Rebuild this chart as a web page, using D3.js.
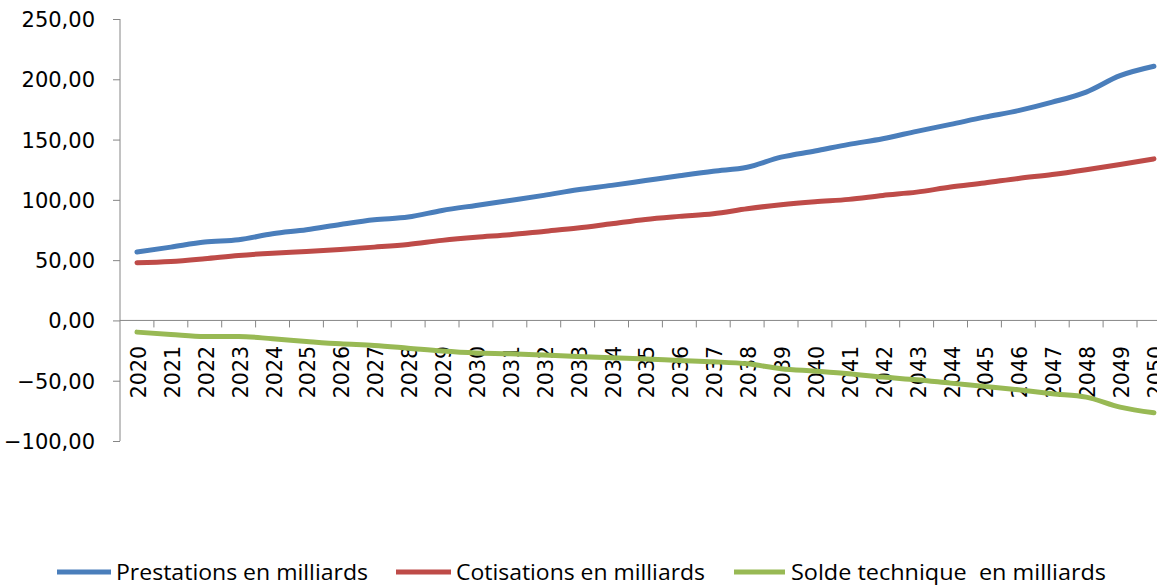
<!DOCTYPE html>
<html>
<head>
<meta charset="utf-8">
<script src="https://cdn.jsdelivr.net/npm/d3@7"></script>
<style>
  html, body { margin: 0; padding: 0; background: #fff; }
  svg { display: block; }
</style>
</head>
<body>
<div id="chart"></div>
<script>
const years = d3.range(2020, 2051).map(String);
const prestations = [56.7, 60.8, 65.0, 66.9, 71.9, 75.2, 79.6, 83.5, 85.7, 91.2, 95.4, 99.5, 103.7, 108.4, 112.0, 116.0, 120.0, 123.8, 127.0, 135.4, 140.5, 146.0, 150.7, 156.8, 162.6, 168.6, 174.0, 181.0, 189.4, 203.0, 210.8];
const cotisations = [47.8, 48.9, 51.2, 53.9, 55.8, 57.2, 58.9, 60.8, 63.0, 66.4, 69.0, 71.0, 73.8, 76.6, 80.2, 83.8, 86.3, 88.5, 92.6, 96.0, 98.5, 100.4, 103.7, 106.4, 110.6, 114.0, 117.8, 121.0, 125.0, 129.4, 134.0];
const solde = [-9.7, -11.6, -13.3, -13.3, -15.2, -17.4, -19.4, -20.7, -23.0, -25.4, -27.0, -27.6, -28.7, -29.9, -31.0, -32.0, -33.2, -34.3, -36.0, -40.0, -42.0, -44.2, -47.0, -49.2, -52.0, -54.7, -57.5, -60.8, -63.6, -71.9, -76.6];
const yTicks = [-100, -50, 0, 50, 100, 150, 200, 250];
const seriesNames = ["Prestations en milliards", "Cotisations en milliards", "Solde technique  en milliards"];
const seriesColors = ["#4a7ebb", "#be4b48", "#98b954"];

const W = 1157, H = 585;
const svg = d3.select("#chart").append("svg").attr("width", W).attr("height", H);

const x = d3.scaleBand().domain(years).range([120, 120 + 31 * 33.9]).padding(0);
const y = d3.scaleLinear().domain([-100, 250]).range([441, 19]);
const axisColor = "#868686";

// Y axis
const yAxis = d3.axisLeft(y).tickValues(yTicks).tickSize(7).tickPadding(18)
  .tickFormat(d => d3.format(".2f")(d).replace(".", ","));
const gy = svg.append("g").attr("transform", "translate(120,0)").call(yAxis);
gy.select(".domain").attr("stroke", axisColor).attr("d", `M0,${y(-100)}V${y(250)}`);
gy.selectAll(".tick line").attr("stroke", axisColor);
gy.selectAll(".tick text").attr("font-family", "DejaVu Sans, Verdana, sans-serif")
  .attr("font-size", 21).attr("fill", "#000").attr("dy", "0.36em");

// X axis at y=0
const y0 = y(0);
const gx = svg.append("g");
gx.append("line").attr("x1", 120).attr("x2", W).attr("y1", y0).attr("y2", y0).attr("stroke", axisColor);
gx.selectAll("line.tk").data(years.slice(1)).enter().append("line").attr("class", "tk")
  .attr("x1", d => x(d)).attr("x2", d => x(d)).attr("y1", y0).attr("y2", y0 + 7).attr("stroke", axisColor);
gx.selectAll("text").data(years).enter().append("text")
  .attr("transform", d => `translate(${x(d) + x.bandwidth() / 2 + 9},346) rotate(-90)`)
  .attr("text-anchor", "end")
  .attr("font-family", "DejaVu Sans, Verdana, sans-serif").attr("font-size", 20.5).attr("fill", "#000")
  .text(d => d);

// Lines
const data = [prestations, cotisations, solde];
const line = d3.line().x((d, i) => x(years[i]) + x.bandwidth() / 2).y(d => y(d)).curve(d3.curveMonotoneX);
data.forEach((s, k) => {
  svg.append("path").datum(s).attr("d", line).attr("fill", "none")
    .attr("stroke", seriesColors[k]).attr("stroke-width", 5)
    .attr("stroke-linecap", "round").attr("stroke-linejoin", "round");
});

// Legend
const legendLines = [[57, 111], [396, 451], [734, 785]];
const legendText = [[116, 252], [456, 249], [791, 315]];
const lg = svg.append("g");
seriesNames.forEach((name, k) => {
  lg.append("line").attr("x1", legendLines[k][0]).attr("x2", legendLines[k][1])
    .attr("y1", 572).attr("y2", 572).attr("stroke", seriesColors[k]).attr("stroke-width", 5);
  lg.append("text").attr("x", legendText[k][0]).attr("y", 579.5)
    .attr("textLength", legendText[k][1]).attr("lengthAdjust", "spacingAndGlyphs")
    .attr("font-family", "Open Sans, sans-serif").attr("font-size", 22).attr("fill", "#000")
    .style("white-space", "pre")
    .text(name);
});
</script>
</body>
</html>
